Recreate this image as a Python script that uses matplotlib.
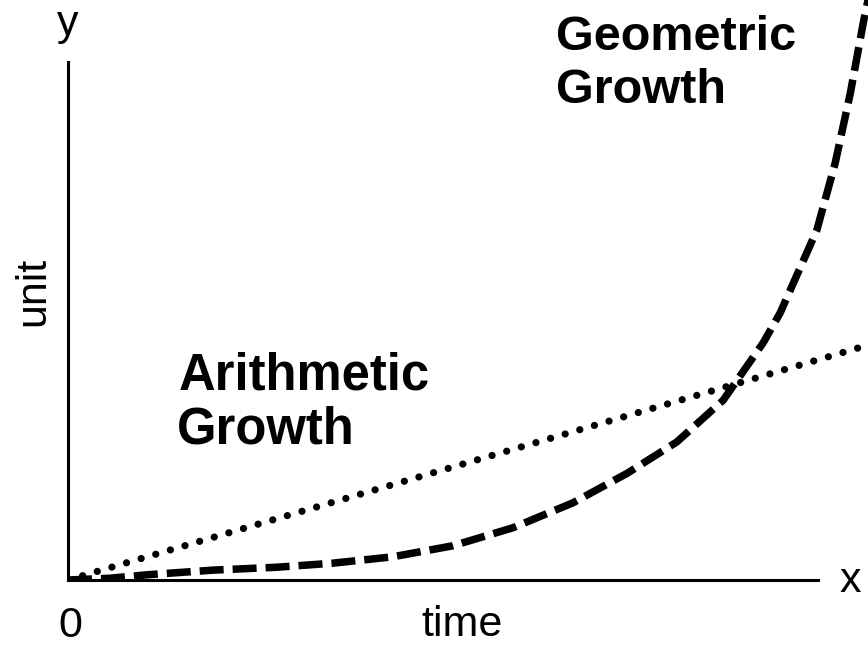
import numpy as np
import matplotlib.pyplot as plt

# data (time on x, unit on y)
geo_x = [0, 0.52, 0.99, 1.81, 2.61, 3.31, 4.06, 4.81, 5.56, 6.31, 6.99,
         7.61, 8.19, 8.69, 8.9, 9.36, 9.59, 9.78, 9.94, 10.0]
geo_y = [0, 0.03, 0.09, 0.17, 0.22, 0.29, 0.40, 0.59, 0.90, 1.33, 1.84,
         2.38, 3.10, 4.09, 4.60, 6.03, 7.19, 8.40, 9.60, 10.0]

arith_x = [0, 10]
arith_y = [0, 4.05]

plt.rcParams['font.family'] = ['Liberation Sans', 'DejaVu Sans']

fig = plt.figure(figsize=(8.68, 6.46), dpi=100)
ax = fig.add_axes([68 / 868, 66 / 646, 800 / 868, 580 / 646])
ax.set_xlim(0, 10)
ax.set_ylim(0, 10)

# kurven
ax.plot(geo_x, geo_y, color='black', lw=5.4, linestyle=(0, (3.2, 1.2)),
        dash_capstyle='butt', solid_joinstyle='round')
ax.plot(arith_x, arith_y, color='black', lw=5.2, linestyle=(0, (0.01, 2.1)),
        dash_capstyle='round')

# achsen
for s in ['top', 'right']:
    ax.spines[s].set_visible(False)
ax.spines['left'].set_bounds(0, 8.93)
ax.spines['bottom'].set_bounds(0, 9.375)
ax.spines['left'].set_linewidth(2.2)
ax.spines['bottom'].set_linewidth(2.2)
ax.set_xticks([])
ax.set_yticks([])

# beschriftungen
fs = 31
ax.text(0.0, 9.4, 'y', fontsize=fs, ha='center', va='baseline')
ax.text(9.78, -0.2, 'x', fontsize=fs, ha='center', va='baseline')
ax.text(0.03, -0.98, '0', fontsize=fs, ha='center', va='baseline')
ax.text(4.93, -0.97, 'time', fontsize=fs, ha='center', va='baseline')
ax.text(-0.44, 4.97, 'unit', fontsize=fs, ha='center', va='center', rotation=90)

ax.text(6.1, 9.14, 'Geometric', fontsize=35, fontweight='bold', va='baseline')
ax.text(6.1, 8.22, 'Growth', fontsize=35, fontweight='bold', va='baseline')
ax.text(1.38, 3.28, 'Arithmetic', fontsize=36.5, fontweight='bold', va='baseline')
ax.text(1.36, 2.36, 'Growth', fontsize=36.5, fontweight='bold', va='baseline')

fig.savefig('out.png', dpi=100)
